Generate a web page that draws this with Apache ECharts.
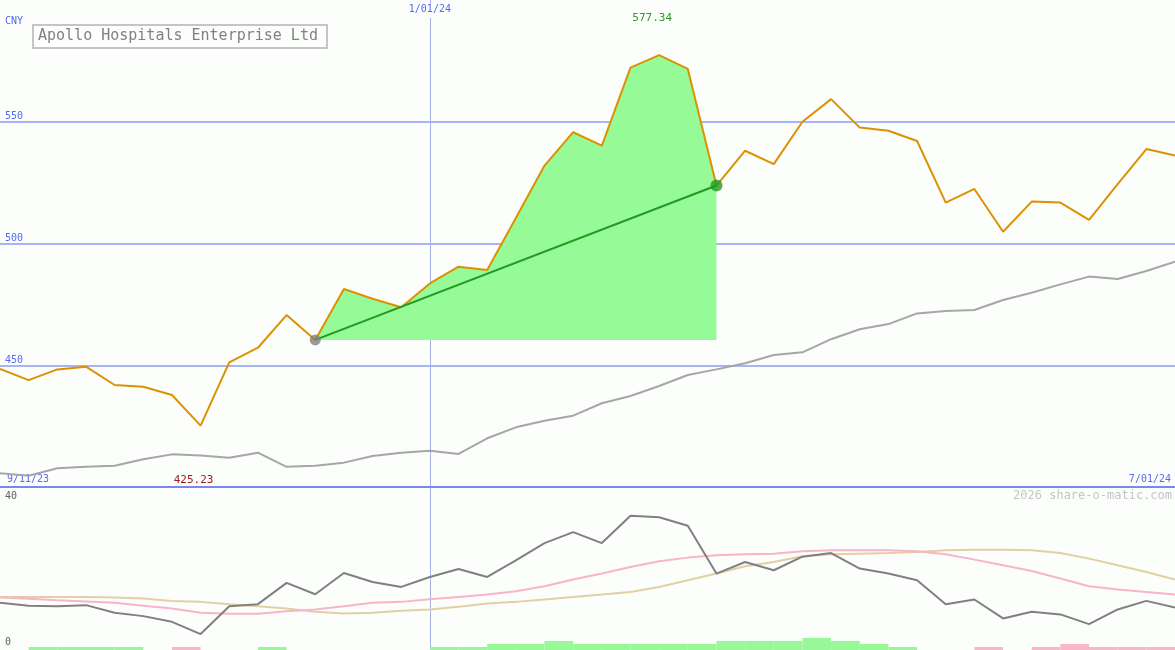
<!DOCTYPE html>
<html>
<head>
<meta charset="utf-8">
<script src="https://cdn.jsdelivr.net/npm/echarts@6/dist/echarts.min.js"></script>
<style>
  html, body { margin: 0; padding: 0; background: #fcfefc; }
  #chart { width: 1175px; height: 650px; }
</style>
</head>
<body>
<div id="chart"></div>
<script>
// ---------- data ----------
const dates = ['9/18/23','9/25/23','10/02/23','10/09/23','10/16/23','10/23/23','10/30/23','11/06/23','11/13/23','11/20/23',
  '11/27/23','12/04/23','12/11/23','12/18/23','12/25/23','1/01/24','1/08/24','1/15/24','1/22/24','1/29/24',
  '2/05/24','2/12/24','2/19/24','2/26/24','3/04/24','3/11/24','3/18/24','3/25/24','4/01/24','4/08/24',
  '4/15/24','4/22/24','4/29/24','5/06/24','5/13/24','5/20/24','5/27/24','6/03/24','6/10/24','6/17/24',
  '6/24/24','7/01/24'];
const rangeLabels = ['9/11/23', '7/01/24'];
const markedDate = '1/01/24';
const price = [448.5, 443.9, 448.3, 449.4, 441.9, 441.2, 437.8, 425.23, 451.2, 457.2,
  470.6, 460.4, 481.3, 477.3, 473.8, 483.6, 490.5, 489.1, 510.5, 532.0,
  545.7, 540.2, 572.2, 577.34, 571.7, 523.8, 538.1, 532.6, 550.0, 559.3,
  547.6, 546.3, 542.1, 516.8, 522.4, 504.8, 517.2, 516.8, 509.7, 524.4,
  538.8, 536.1];
const movingAvg = [405.6, 404.6, 407.7, 408.3, 408.7, 411.4, 413.4, 412.9, 412.0, 414.1,
  408.3, 408.7, 410.0, 412.7, 414.1, 414.9, 413.6, 420.0, 424.5, 427.2,
  429.3, 434.4, 437.4, 441.5, 446.0, 448.3, 450.8, 454.2, 455.3, 460.7,
  464.8, 466.9, 471.3, 472.3, 472.7, 476.8, 479.8, 483.2, 486.4, 485.4,
  488.7, 492.5];
const trendStart = 11;
const trendEnd = 25;
const oscFast = [12.14, 11.32, 11.23, 11.51, 9.40, 8.49, 6.93, 3.56, 11.23, 11.78,
  17.62, 14.52, 20.36, 17.89, 16.52, 19.26, 21.45, 19.26, 23.84, 28.58,
  31.59, 28.58, 36.08, 35.70, 33.34, 20.19, 23.37, 21.10, 24.85, 25.84,
  21.56, 20.19, 18.36, 11.78, 13.07, 7.86, 9.67, 8.96, 6.30, 10.33,
  12.68, 10.88];
const oscMid = [13.62, 13.29, 12.88, 12.52, 12.14, 11.37, 10.60, 9.40, 9.12, 9.12,
  9.86, 10.33, 11.23, 12.14, 12.41, 13.15, 13.78, 14.44, 15.34, 16.71,
  18.55, 20.19, 22.00, 23.56, 24.58, 25.21, 25.48, 25.67, 26.30, 26.58,
  26.58, 26.58, 26.30, 25.48, 24.03, 22.47, 20.90, 18.82, 16.71, 15.81,
  15.15, 14.44];
const oscSlow = [13.78, 13.78, 13.78, 13.78, 13.62, 13.34, 12.68, 12.41, 11.78, 11.23,
  10.60, 9.67, 9.23, 9.40, 9.95, 10.33, 11.04, 11.97, 12.41, 13.07,
  13.78, 14.44, 15.15, 16.52, 18.36, 20.19, 22.19, 23.37, 24.93, 25.48,
  25.67, 25.84, 26.11, 26.58, 26.77, 26.77, 26.58, 25.84, 24.30, 22.47,
  20.63, 18.55];
const volUp = ['-', 1, 1, 1, 1, '-', '-', '-', '-', 1,
  '-', '-', '-', '-', '-', 1, 1, 2, 2, 3,
  2, 2, 2, 2, 2, 3, 3, 3, 4, 3,
  2, 1, '-', '-', '-', '-', '-', '-', '-', '-', '-'];
const volDown = ['-', '-', '-', '-', '-', '-', 1, '-', '-', '-',
  '-', '-', '-', '-', '-', '-', '-', '-', '-', '-',
  '-', '-', '-', '-', '-', '-', '-', '-', '-', '-',
  '-', '-', '-', '-', 1, '-', 1, 2, 1, 1, 1];
const priceTicks = [400, 600, 50];
const oscTicks = [0, 44, 40];
const title = 'Apollo Hospitals Enterprise Ltd';
const currency = 'CNY';
const watermark = '2026 share-o-matic.com';

// ---------- derived ----------
const base = price[trendStart];
const areaBase = price.map((v, i) => (i >= trendStart && i <= trendEnd) ? base : '-');
const areaDiff = price.map((v, i) => (i >= trendStart && i <= trendEnd) ? +(v - base).toFixed(2) : '-');
const trend = price.map((v, i) => (i === trendStart || i === trendEnd) ? v : '-');
const startDot = price.map((v, i) => i === trendStart ? v : '-');
const endDot = price.map((v, i) => i === trendEnd ? v : '-');
const intervals = dates.slice(1);
const markIdx = dates.indexOf(markedDate);

const MONO = 'DejaVu Sans Mono';
const BLUE_TXT = '#5868f0';

const chart = echarts.init(document.getElementById('chart'), null, { renderer: 'canvas' });
chart.setOption({
  animation: false,
  backgroundColor: '#fcfefc',
  title: {
    text: title, left: 33, top: 25,
    borderColor: '#c6c4c6', borderWidth: 2, padding: [2, 9, 2, 5],
    textStyle: { fontFamily: MONO, fontSize: 15, fontWeight: 'normal', color: '#808080', lineHeight: 19 }
  },
  graphic: [
    { type: 'text', left: 5, top: 16, style: { text: currency, fontFamily: MONO, fontSize: 10, fill: BLUE_TXT } },
    { type: 'text', left: 7, top: 474, style: { text: rangeLabels[0], fontFamily: MONO, fontSize: 10, fill: BLUE_TXT } },
    { type: 'text', right: 4, top: 474, style: { text: rangeLabels[1], fontFamily: MONO, fontSize: 10, fill: BLUE_TXT } },
    { type: 'text', right: 3, top: 490, style: { text: watermark, fontFamily: MONO, fontSize: 12, fill: '#c4c4c4' } }
  ],
  grid: [
    { left: 0, right: 0, top: 0, height: 487 },
    { left: 0, right: 0, top: 487, bottom: 3 },
    { left: 0, right: 0, top: 487, bottom: 0 }
  ],
  xAxis: [
    {
      type: 'category', gridIndex: 0, data: dates, boundaryGap: false, position: 'top',
      axisLine: { show: false, onZero: false }, axisTick: { show: false },
      axisLabel: {
        inside: true, margin: 4, interval: (i) => i === markIdx,
        fontFamily: MONO, fontSize: 10, color: BLUE_TXT,
        backgroundColor: '#fcfefc', padding: [0, 1, 4, 1]
      },
      splitLine: { show: true, interval: (i) => i === markIdx, lineStyle: { color: '#a8b0e8', width: 1 } }
    },
    {
      type: 'category', gridIndex: 1, data: dates, boundaryGap: false, position: 'top',
      axisLine: { show: true, onZero: false, lineStyle: { color: '#7888ec', width: 2 } },
      axisTick: { show: false }, axisLabel: { show: false },
      splitLine: { show: true, interval: (i) => i === markIdx, lineStyle: { color: '#a8b0e8', width: 1 } }
    },
    {
      type: 'category', gridIndex: 2, data: intervals, boundaryGap: true, show: false
    }
  ],
  yAxis: [
    {
      type: 'value', gridIndex: 0, min: priceTicks[0], max: priceTicks[1], interval: priceTicks[2],
      axisLine: { show: false }, axisTick: { show: false },
      axisLabel: {
        inside: true, margin: 5, verticalAlign: 'bottom', fontFamily: MONO, fontSize: 10, color: BLUE_TXT,
        showMinLabel: false, showMaxLabel: false, padding: [0, 0, 0, 0]
      },
      splitLine: { show: true, showMinLine: false, showMaxLine: false, lineStyle: { color: '#a8b4f4', width: 2 } }
    },
    {
      type: 'value', gridIndex: 1, min: oscTicks[0], max: oscTicks[1], interval: oscTicks[2],
      axisLine: { show: false }, axisTick: { show: false },
      axisLabel: {
        inside: true, margin: 5, verticalAlign: 'bottom', fontFamily: MONO, fontSize: 10, color: '#606060',
        showMaxLabel: false
      },
      splitLine: { show: false }
    },
    {
      type: 'value', gridIndex: 2, min: 0, max: 54, show: false, splitLine: { show: false }
    }
  ],
  series: [
    {
      name: 'areaBase', type: 'line', xAxisIndex: 0, yAxisIndex: 0, stack: 'gain', data: areaBase,
      showSymbol: false, lineStyle: { width: 0, opacity: 0 }, silent: true, z: 1
    },
    {
      name: 'areaDiff', type: 'line', xAxisIndex: 0, yAxisIndex: 0, stack: 'gain', data: areaDiff,
      showSymbol: false, lineStyle: { width: 0, opacity: 0 }, areaStyle: { color: '#96fa96', opacity: 1 }, silent: true, z: 1
    },
    {
      name: 'ma', type: 'line', xAxisIndex: 0, yAxisIndex: 0, data: movingAvg,
      showSymbol: false, lineStyle: { color: '#a6a6a6', width: 2 }, z: 2
    },
    {
      name: 'price', type: 'line', xAxisIndex: 0, yAxisIndex: 0, data: price,
      showSymbol: false, lineStyle: { color: '#dc9200', width: 2 }, z: 3,
      markPoint: {
        symbol: 'circle', symbolSize: 0,
        data: [
          { type: 'max', label: { show: true, position: 'top', offset: [-7, -27], color: '#2a9a2a',
              fontFamily: MONO, fontSize: 11, formatter: (p) => p.value.toFixed(2) } },
          { type: 'min', label: { show: true, position: 'bottom', offset: [-7, 44], color: '#a01c1c',
              fontFamily: MONO, fontSize: 11, formatter: (p) => p.value.toFixed(2) } }
        ]
      }
    },
    {
      name: 'trend', type: 'line', xAxisIndex: 0, yAxisIndex: 0, data: trend, connectNulls: true,
      showSymbol: false, lineStyle: { color: '#229a22', width: 2 }, z: 4
    },
    {
      name: 'startDot', type: 'scatter', xAxisIndex: 0, yAxisIndex: 0, data: startDot,
      symbol: 'circle', symbolSize: 11, itemStyle: { color: '#808080' }, z: 5
    },
    {
      name: 'endDot', type: 'scatter', xAxisIndex: 0, yAxisIndex: 0, data: endDot,
      symbol: 'circle', symbolSize: 12, itemStyle: { color: '#229a22' }, z: 5
    },
    {
      name: 'volUp', type: 'bar', xAxisIndex: 2, yAxisIndex: 2, data: volUp,
      barWidth: '100%', barGap: '-100%', itemStyle: { color: '#98f898' }, z: 1
    },
    {
      name: 'volDown', type: 'bar', xAxisIndex: 2, yAxisIndex: 2, data: volDown,
      barWidth: '100%', barGap: '-100%', itemStyle: { color: '#f8b8c8' }, z: 1
    },
    {
      name: 'oscSlow', type: 'line', xAxisIndex: 1, yAxisIndex: 1, data: oscSlow,
      showSymbol: false, lineStyle: { color: '#e2d0a0', width: 2 }, z: 2
    },
    {
      name: 'oscMid', type: 'line', xAxisIndex: 1, yAxisIndex: 1, data: oscMid,
      showSymbol: false, lineStyle: { color: '#f8b4c8', width: 2 }, z: 3
    },
    {
      name: 'oscFast', type: 'line', xAxisIndex: 1, yAxisIndex: 1, data: oscFast,
      showSymbol: false, lineStyle: { color: '#808080', width: 2 }, z: 4
    }
  ]
});
</script>
</body>
</html>
